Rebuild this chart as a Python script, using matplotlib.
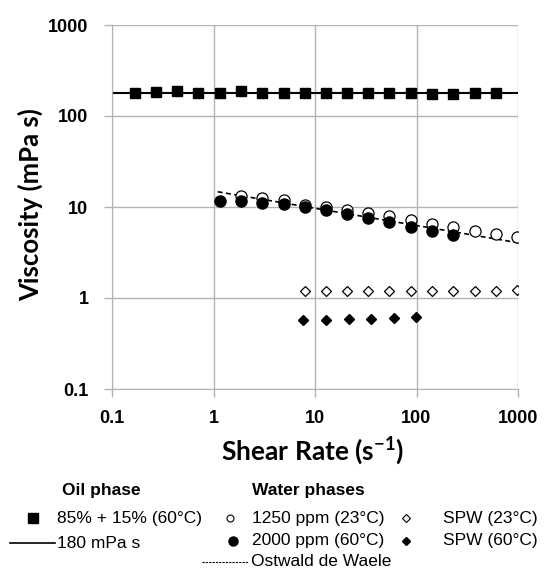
import numpy as np
import matplotlib
matplotlib.use("Agg")
import matplotlib.pyplot as plt
from matplotlib.lines import Line2D

plt.rcParams["mathtext.fontset"] = "custom"
plt.rcParams["mathtext.rm"] = "Lato:bold"
plt.rcParams["mathtext.bf"] = "Lato:bold"

# data
oil_rate = [0.167, 0.27, 0.44, 0.71, 1.15, 1.87, 3.0, 4.9, 7.9, 12.8,
            20.7, 33.5, 54, 88, 143, 231, 374, 606]
oil_visc = [180, 185, 186, 180, 180, 187, 180, 180, 180, 180,
            180, 180, 180, 180, 176, 176, 180, 180]
oil_model = 180  # mPa s

w2000_rate = [1.15, 1.87, 3.0, 4.9, 7.9, 12.8, 20.7, 33.5, 54, 88, 143, 231]
w2000_visc = [11.6, 11.6, 11.1, 10.8, 10.0, 9.3, 8.4, 7.6, 6.8, 6.0, 5.5, 4.9]

w1250_rate = [1.87, 3.0, 4.9, 7.9, 12.8, 20.7, 33.5, 54, 88, 143, 231, 374, 606, 985]
w1250_visc = [13.3, 12.5, 11.8, 10.5, 9.9, 9.3, 8.7, 8.0, 7.2, 6.5, 6.0, 5.5, 5.0, 4.65]

ostwald_rate = [1.1, 1000]
ostwald_visc = [14.7, 4.05]

spw23_rate = [7.9, 12.8, 20.7, 33.5, 54, 88, 143, 231, 374, 606, 985]
spw23_visc = [1.2, 1.2, 1.2, 1.2, 1.2, 1.2, 1.2, 1.2, 1.2, 1.2, 1.22]

spw60_rate = [7.7, 12.8, 21.4, 35.6, 59.4, 99]
spw60_visc = [0.58, 0.58, 0.59, 0.59, 0.60, 0.62]

W, H = 555, 570
fig = plt.figure(figsize=(W / 100, H / 100), dpi=100)
ax = fig.add_axes([112 / W, 1 - 389 / H, (518 - 112) / W, (389 - 25) / H])

grid_c = "#b3b3b3"
ax.set_xscale("log")
ax.set_yscale("log")
ax.set_xlim(0.1, 1000)
ax.set_ylim(0.1, 1000)
ax.grid(True, which="major", color=grid_c, lw=1)
ax.minorticks_off()
for s in ax.spines.values():
    s.set_visible(False)
ax.spines["left"].set_visible(True)
ax.spines["bottom"].set_visible(True)
ax.spines["left"].set_color(grid_c)
ax.spines["bottom"].set_color(grid_c)

ticks = [0.1, 1, 10, 100, 1000]
labels = ["0.1", "1", "10", "100", "1000"]
ax.set_xticks(ticks)
ax.set_xticklabels(labels)
ax.set_yticks(ticks)
ax.set_yticklabels(labels)
ax.tick_params(axis="both", color=grid_c, length=6, width=1, direction="out")
ax.tick_params(axis="y", pad=11)
ax.tick_params(axis="x", pad=9)
for t in ax.get_xticklabels() + ax.get_yticklabels():
    t.set_fontfamily("Liberation Sans")
    t.set_fontweight("bold")
    t.set_fontsize(13)

# series
ax.axhline(oil_model, color="black", lw=1.5, zorder=2)
ax.plot(oil_rate, oil_visc, ls="none", marker="s", ms=7.2, color="black", zorder=3)
ax.plot(ostwald_rate, ostwald_visc, ls=(0, (3, 2)), color="black", lw=1.2, zorder=2)
ax.plot(w1250_rate, w1250_visc, ls="none", marker="o", ms=8, mfc="white",
        mec="black", mew=0.9, zorder=3)
ax.plot(w2000_rate, w2000_visc, ls="none", marker="o", ms=8, color="black", zorder=4)
ax.plot(spw23_rate, spw23_visc, ls="none", marker="D", ms=5.5, mfc="white",
        mec="black", mew=0.9, zorder=3)
ax.plot(spw60_rate, spw60_visc, ls="none", marker="D", ms=5.5, color="black", zorder=3)

ax.set_xlabel("Shear Rate (s$^{-1}$)", fontfamily="Lato",
              fontweight="bold", fontsize=19)
ax.xaxis.set_label_coords((313 - 112) / (518 - 112), -(434 - 389) / (389 - 25))
ax.set_ylabel("Viscosity (mPa s)", fontfamily="Lato", fontweight="bold", fontsize=18.5)
ax.yaxis.set_label_coords(-(112 - 43) / (518 - 112), (389 - 205) / (389 - 25))


# legend drawn by hand below the axes, positions in pixels
def fx(x):
    return x / W


def fy(y):
    return 1 - y / H


def mark(x, y, **kw):
    fig.add_artist(Line2D([fx(x)], [fy(y)], transform=fig.transFigure, ls="none",
                          color="black", **kw))


def seg(x0, x1, y, **kw):
    fig.add_artist(Line2D([fx(x0), fx(x1)], [fy(y), fy(y)],
                          transform=fig.transFigure, color="black", **kw))


def txt(x, y, s, bold=False):
    fig.text(fx(x), fy(y), s, ha="left", va="center", fontsize=12.5,
             fontfamily="Liberation Sans", fontweight="bold" if bold else "normal")


txt(62, 490, "Oil phase", bold=True)
mark(33, 518, marker="s", ms=6.5)
txt(57, 518, "85% + 15% (60°C)")
seg(10, 55, 543, lw=1.2)
txt(57, 543, "180 mPa s")

txt(252, 490, "Water phases", bold=True)
mark(230, 518, marker="o", ms=5, mfc="white", mec="black", mew=0.8)
txt(252, 518, "1250 ppm (23°C)")
mark(233, 541, marker="o", ms=6.5)
txt(252, 541, "2000 ppm (60°C)")
seg(202, 248, 562, lw=0.8, ls=(0, (2, 1)))
txt(251, 562, "Ostwald de Waele")

mark(406, 518, marker="D", ms=4.5, mfc="white", mec="black", mew=0.8)
txt(443, 518, "SPW (23°C)")
mark(406, 541, marker="D", ms=4.5)
txt(443, 541, "SPW (60°C)")

fig.savefig("out.png", dpi=100)
